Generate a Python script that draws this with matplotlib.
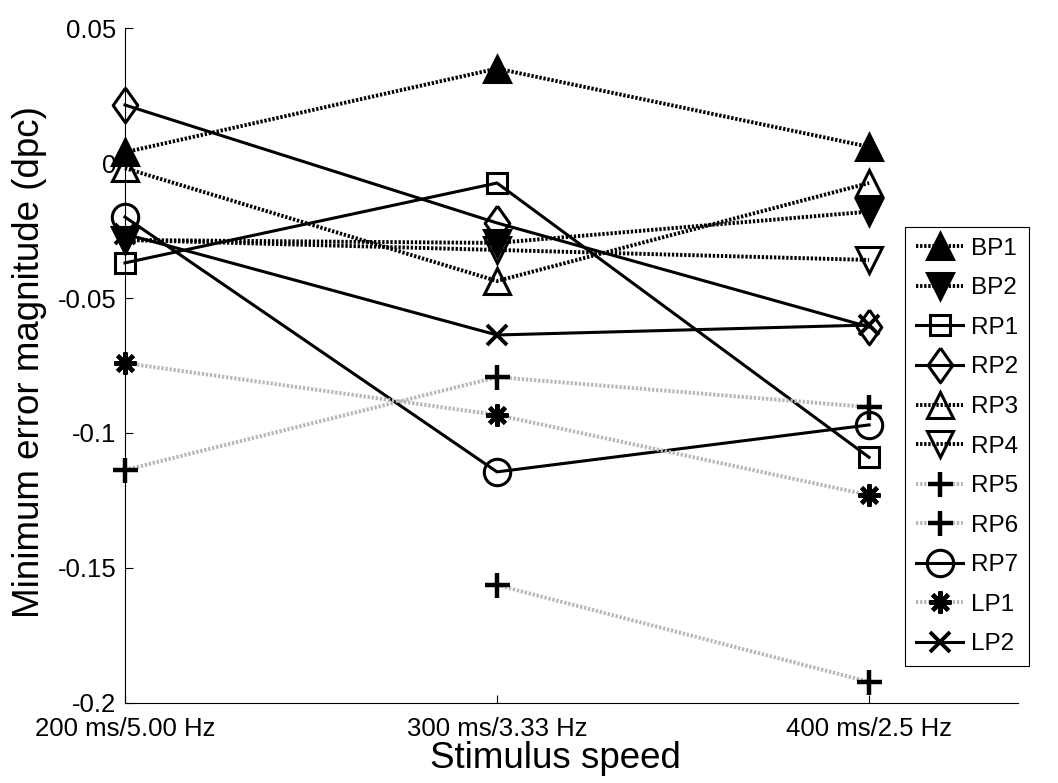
import numpy as np
import matplotlib
matplotlib.use('Agg')
import matplotlib.pyplot as plt

plt.rcParams['font.family'] = ['Liberation Sans', 'DejaVu Sans']
plt.rcParams['axes.unicode_minus'] = False

speeds = ['200 ms/5.00 Hz', '300 ms/3.33 Hz', '400 ms/2.5 Hz']
x = np.array([1, 2, 3])

names = ['BP1', 'BP2', 'RP1', 'RP2', 'RP3', 'RP4', 'RP5', 'RP6', 'RP7', 'LP1', 'LP2']
BP1 = [0.004, 0.035, 0.006]
BP2 = [-0.0285, -0.0296, -0.018]
RP1 = [-0.037, -0.0074, -0.109]
RP2 = [0.0215, -0.0222, -0.0607]
RP3 = [-0.0019, -0.0437, -0.0074]
RP4 = [-0.0285, -0.0322, -0.0359]
RP5 = [-0.1137, -0.0793, -0.0904]
RP6 = [np.nan, -0.1563, -0.1922]
RP7 = [-0.020, -0.1144, -0.097]
LP1 = [-0.0741, -0.0933, -0.123]
LP2 = [-0.0263, -0.0637, -0.060]
series = [BP1, BP2, RP1, RP2, RP3, RP4, RP5, RP6, RP7, LP1, LP2]

yticks = [0.05, 0, -0.05, -0.1, -0.15, -0.2]
ytick_labels = ['0.05', '0', '-0.05', '-0.1', '-0.15', '-0.2']

dot = (0, (0.6, 0.45))
grey = '#b8b8b8'
diamond = [(0, 1), (0.71, 0), (0, -1), (-0.71, 0), (0, 1)]
# (marker, size, filled, line colour, line style, edge width)
styles = {
    'BP1': ('^', 19, True, 'k', dot, 2.2),
    'BP2': ('v', 19, True, 'k', dot, 2.2),
    'RP1': ('s', 15, False, 'k', '-', 2.2),
    'RP2': (diamond, 25, False, 'k', '-', 2.2),
    'RP3': ('^', 19, False, 'k', dot, 2.2),
    'RP4': ('v', 19, False, 'k', dot, 2.2),
    'RP5': ('+', 18, False, grey, dot, 3.2),
    'RP6': ('+', 18, False, grey, dot, 3.2),
    'RP7': ('o', 19, False, 'k', '-', 2.2),
    'LP1': ((8, 2, 0), 16, False, grey, dot, 3.0),
    'LP2': ('x', 14, False, 'k', '-', 2.8),
}

fig = plt.figure(figsize=(10.58, 7.83), dpi=100)
ax = fig.add_axes([0.1181, 0.1022, 0.844, 0.8620])

for name, y in zip(names, series):
    m, ms, filled, lc, ls, mew = styles[name]
    lw = 2.2 if ls == '-' else 2.8
    ax.plot(x, y, color=lc, linestyle=ls, linewidth=lw, marker=m, markersize=ms,
            markeredgecolor='k', markeredgewidth=mew,
            markerfacecolor='k' if filled else 'none',
            clip_on=False, zorder=3, label=name)

ax.set_xlim(1, 3.4)
ax.set_ylim(-0.2, 0.05)
ax.set_xticks(x)
ax.set_xticklabels(speeds)
ax.set_yticks(yticks)
ax.set_yticklabels(ytick_labels)
ax.tick_params(direction='in', length=6, width=0.8, labelsize=18.5, pad=6)
ax.tick_params(axis='x', pad=10)
for s in ['top', 'right']:
    ax.spines[s].set_visible(False)
for s in ['left', 'bottom']:
    ax.spines[s].set_linewidth(0.8)

ax.set_xlabel('Stimulus speed', fontsize=26.5)
ax.xaxis.set_label_coords((556 - 125) / (1018 - 125), -(759 - 703) / 675)
ax.xaxis.label.set_va('center')
ax.set_ylabel('Minimum error magnitude (dpc)', fontsize=26.5)
ax.yaxis.set_label_coords(-(125 - 30) / 893, (703 - 362) / 675)
ax.yaxis.label.set_va('center')

leg = fig.legend(loc='upper left', bbox_to_anchor=(905 / 1058, 1 - 227 / 783),
                 fontsize=17.5, frameon=True, fancybox=False, framealpha=1,
                 edgecolor='k', handlelength=1.95, handletextpad=0.3,
                 labelspacing=0.72, borderpad=0.45, borderaxespad=0)
leg.get_frame().set_linewidth(0.8)

fig.savefig('out.png', dpi=100)
